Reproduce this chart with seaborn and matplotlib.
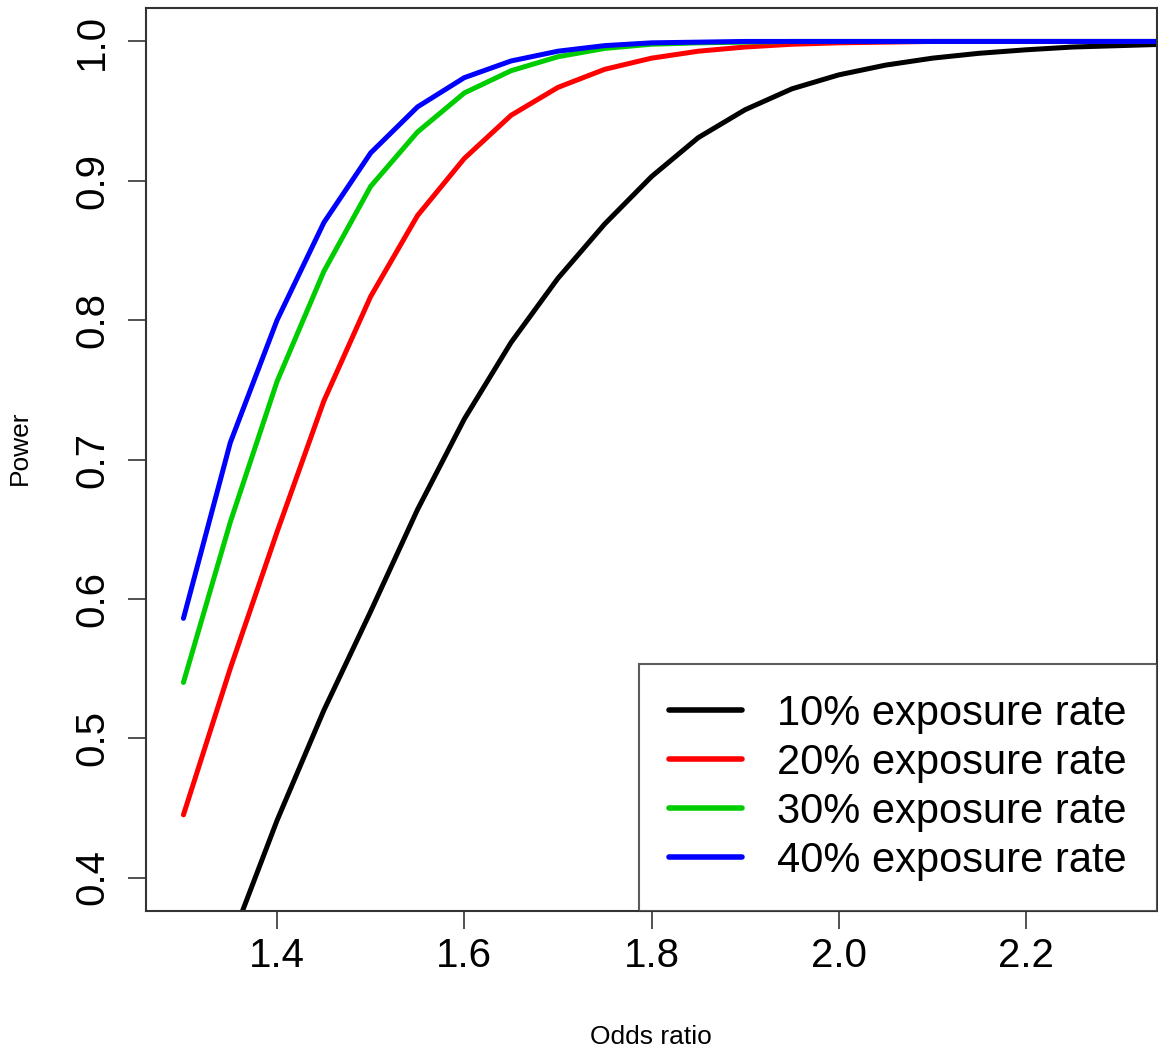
import numpy as np
import pandas as pd
import seaborn as sns
import matplotlib
matplotlib.use('Agg')
from matplotlib import pyplot as plt

sns.set_style('white')
plt.rcParams['font.family'] = ['Liberation Sans', 'DejaVu Sans']
plt.rcParams['text.color'] = 'black'
plt.rcParams['xtick.color'] = 'black'
plt.rcParams['ytick.color'] = 'black'

odds_ratio = [1.30, 1.35, 1.40, 1.45, 1.50, 1.55, 1.60, 1.65, 1.70, 1.75, 1.80,
              1.85, 1.90, 1.95, 2.00, 2.05, 2.10, 2.15, 2.20, 2.25, 2.30, 2.35, 2.40]
power_10 = [0.260, 0.353, 0.441, 0.520, 0.591, 0.664, 0.729, 0.784, 0.830, 0.869, 0.903,
            0.931, 0.951, 0.966, 0.976, 0.983, 0.988, 0.9915, 0.994, 0.996, 0.997, 0.998, 0.9985]
power_20 = [0.445, 0.550, 0.648, 0.742, 0.817, 0.875, 0.916, 0.947, 0.967, 0.980, 0.988,
            0.993, 0.996, 0.998, 0.999, 0.9995, 1.0, 1.0, 1.0, 1.0, 1.0, 1.0, 1.0]
power_30 = [0.540, 0.655, 0.756, 0.835, 0.896, 0.935, 0.963, 0.979, 0.989, 0.995, 0.998,
            0.999, 0.9995, 1.0, 1.0, 1.0, 1.0, 1.0, 1.0, 1.0, 1.0, 1.0, 1.0]
power_40 = [0.586, 0.712, 0.800, 0.870, 0.920, 0.953, 0.974, 0.986, 0.993, 0.997, 0.999,
            0.9995, 1.0, 1.0, 1.0, 1.0, 1.0, 1.0, 1.0, 1.0, 1.0, 1.0, 1.0]
labels = ['10% exposure rate', '20% exposure rate', '30% exposure rate', '40% exposure rate']
colors = ['#000000', '#FF0000', '#00CD00', '#0000FF']

frames = []
for lab, vals in zip(labels, [power_10, power_20, power_30, power_40]):
    frames.append(pd.DataFrame({'Odds ratio': odds_ratio, 'Power': vals, 'Exposure': lab}))
df = pd.concat(frames, ignore_index=True)

fig = plt.figure(figsize=(11.58, 10.53), dpi=100)
ax = fig.add_axes([146/1158, 1 - 911/1053, (1157 - 146)/1158, (911 - 8)/1053])

sns.lineplot(data=df, x='Odds ratio', y='Power', hue='Exposure', palette=colors,
             linewidth=3.6, ax=ax, legend=True)

ax.set_xlim(1.26, 2.34)
ax.set_ylim(0.376, 1.024)
ax.set_xticks([1.4, 1.6, 1.8, 2.0, 2.2])
ax.set_yticks([0.4, 0.5, 0.6, 0.7, 0.8, 0.9, 1.0])
ax.set_xticklabels(['1.4', '1.6', '1.8', '2.0', '2.2'], fontsize=29)
ax.set_yticklabels(['0.4', '0.5', '0.6', '0.7', '0.8', '0.9', '1.0'], fontsize=29,
                   rotation=90, va='center')
ax.tick_params(axis='both', direction='out', length=13, width=1.2, color='#333333',
               bottom=True, left=True)
ax.tick_params(axis='x', pad=6)
ax.tick_params(axis='y', pad=12)
for s in ax.spines.values():
    s.set_visible(True)
    s.set_color('#333333')
    s.set_linewidth(1.5)

ax.set_xlabel('')
ax.set_ylabel('')
fig.text(651/1158, 1 - 1037/1053, 'Odds ratio', fontsize=19, ha='center', va='center')
fig.text(20/1158, 1 - 448/1053, 'Power', fontsize=19, ha='center', va='center', rotation=90)

leg = ax.legend(loc='lower right', fontsize=30, frameon=True, fancybox=False,
                borderaxespad=0, borderpad=0.72, handlelength=1.75, handletextpad=0.85,
                labelspacing=0.22, title=None)
leg.get_frame().set_edgecolor('#333333')
leg.get_frame().set_linewidth(1.5)
for h in leg.get_lines():
    h.set_linewidth(4)

fig.savefig('out.png', dpi=100)
